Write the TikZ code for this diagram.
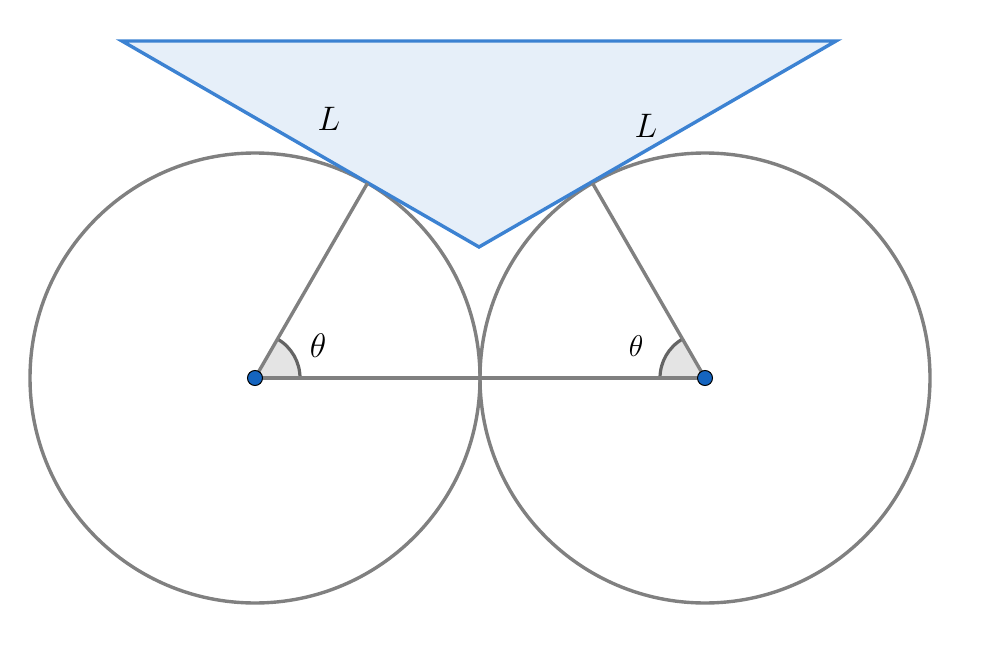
\documentclass[tikz,border=0pt]{standalone}
\usepackage{fix-cm}
\usetikzlibrary{calc}
\DeclareMathSizes{34}{34}{24}{17}
\DeclareMathSizes{30}{30}{21}{15}
\begin{document}
\begin{tikzpicture}[x=1pt,y=-1pt,
  tri/.style={draw={rgb,255:red,60;green,130;blue,210},fill={rgb,255:red,230;green,239;blue,249},line width=3.4pt,line join=miter},
  angfill/.style={fill={rgb,255:red,228;green,228;blue,228}},
  angline/.style={draw={rgb,255:red,100;green,100;blue,100},line width=3.2pt},
  gl/.style={draw={rgb,255:red,128;green,128;blue,128},line width=3.4pt},
  dot/.style={circle,draw=black,fill={rgb,255:red,21;green,101;blue,192},line width=1pt,inner sep=0pt,minimum size=15pt},
  lab/.style={font=\fontsize{34}{38}\selectfont}]
\useasboundingbox (0,0) rectangle (981,652);
\coordinate (O1) at (255,378);
\coordinate (O2) at (705,378);
\coordinate (T1) at (367.5,183.1);
\coordinate (T2) at (592.5,183.1);
\coordinate (A) at (122,41);
\coordinate (B) at (836,41);
\coordinate (C) at (479,247);
% angle sectors
\fill[angfill] (O1) -- ++(45,0) arc[start angle=0,end angle=-60,radius=45] -- cycle;
\fill[angfill] (O2) -- ++(-45,0) arc[start angle=180,end angle=240,radius=45] -- cycle;
\draw[angline] ($(O1)+(45,0)$) arc[start angle=0,end angle=-60,radius=45];
\draw[angline] ($(O2)+(-45,0)$) arc[start angle=180,end angle=240,radius=45];
% circles
\draw[gl] (O1) circle[radius=225];
\draw[gl] (O2) circle[radius=225];
% triangle
\draw[tri] (A) -- (B) -- (C) -- cycle;
% radii and center line
\draw[gl] (O1) -- (T1);
\draw[gl] (O2) -- (T2);
\draw[gl] (O1) -- (O2);
\node[dot] (P1) at (O1) {};
\node[dot] (P2) at (O2) {};
\node[lab] (L1) at (329,119) {$L$};
\node[lab] (L2) at (646,126) {$L$};
\node[lab] (th1) at (318,346) {$\theta$};
\node[font=\fontsize{30}{34}\selectfont] (th2) at (636,346) {$\theta$};
\end{tikzpicture}
\end{document}
